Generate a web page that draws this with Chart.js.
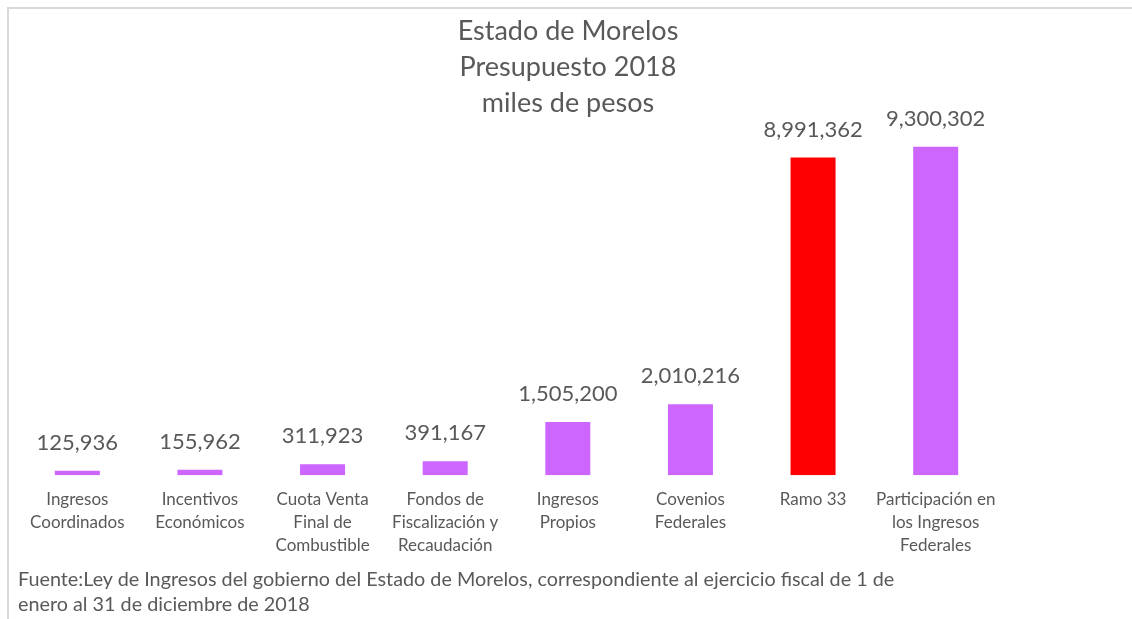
<!DOCTYPE html>
<html>
<head>
<meta charset="utf-8">
<script src="https://cdn.jsdelivr.net/npm/chart.js@4.4.1/dist/chart.umd.min.js"></script>
<style>
  html, body { margin: 0; padding: 0; background: #fff; }
  #wrap { position: relative; width: 1132px; height: 619px; overflow: hidden; }
  #frame { position: absolute; left: 7px; top: 7px; width: 1140px; height: 640px;
           border-top: 2px solid #d9d9d9; border-left: 2px solid #d9d9d9; }
  #chart { position: absolute; left: 0; top: 0; }
  #nota { position: absolute; left: 18px; top: 566px; font-family: Lato, sans-serif;
          font-size: 19.8px; line-height: 25px; color: #595959; white-space: nowrap; }
</style>
</head>
<body>
<div id="wrap">
  <div id="frame"></div>
  <canvas id="chart" width="1132" height="619"></canvas>
  <div id="nota">Fuente:Ley de Ingresos del gobierno del Estado de Morelos, correspondiente al ejercicio fiscal de 1 de<br>enero al 31 de diciembre de 2018</div>
</div>
<script>
// Datos del presupuesto (miles de pesos)
const titulo = ['Estado de Morelos', 'Presupuesto 2018', 'miles de pesos'];
const categorias = [
    ['Ingresos', 'Coordinados'],
    ['Incentivos', 'Económicos'],
    ['Cuota Venta', 'Final de', 'Combustible'],
    ['Fondos de', 'Fiscalización y', 'Recaudación'],
    ['Ingresos', 'Propios'],
    ['Covenios', 'Federales'],
    ['Ramo 33'],
    ['Participación en', 'los Ingresos', 'Federales']
];
const montos = [125936, 155962, 311923, 391167, 1505200, 2010216, 8991362, 9300302];
const colores = ['#CC66FF', '#CC66FF', '#CC66FF', '#CC66FF', '#CC66FF', '#CC66FF', '#FF0000', '#CC66FF'];

const textoGris = '#595959';

// titulo centrado en todo el lienzo (no solo sobre el area de barras)
const tituloCentrado = {
    id: 'tituloCentrado',
    afterDraw(chart) {
        const ctx = chart.ctx;
        ctx.save();
        ctx.font = '27px Lato';
        ctx.fillStyle = textoGris;
        ctx.textAlign = 'center';
        ctx.textBaseline = 'middle';
        titulo.forEach((linea, i) => {
            ctx.fillText(linea, 568, 31 + i * 36);
        });
        ctx.restore();
    }
};

// etiquetas con el valor encima de cada barra
const etiquetasValor = {
    id: 'etiquetasValor',
    afterDatasetsDraw(chart) {
        const ctx = chart.ctx;
        const meta = chart.getDatasetMeta(0);
        ctx.save();
        ctx.font = '22px Lato';
        ctx.fillStyle = textoGris;
        ctx.textAlign = 'center';
        ctx.textBaseline = 'middle';
        meta.data.forEach((bar, i) => {
            ctx.fillText(montos[i].toLocaleString('en-US'), bar.x, bar.y - 28);
        });
        ctx.restore();
    }
};

const canvas = document.getElementById('chart').getContext('2d');
new Chart(canvas, {
    type: 'bar',
    data: {
        labels: categorias,
        datasets: [{
            data: montos,
            backgroundColor: colores,
            borderWidth: 0,
            categoryPercentage: 1,
            barPercentage: 0.367
        }]
    },
    options: {
        responsive: false,
        animation: false,
        layout: {
            padding: { left: 16, right: 135, top: 122, bottom: 49 }
        },
        scales: {
            x: {
                grid: { display: false, drawTicks: false },
                border: { display: false },
                ticks: {
                    color: textoGris,
                    font: { family: 'Lato', size: 17, lineHeight: 1.35 },
                    padding: 13,
                    maxRotation: 0,
                    autoSkip: false
                }
            },
            y: {
                display: false,
                min: 0,
                max: 10000000
            }
        },
        plugins: {
            legend: { display: false },
            tooltip: { enabled: false },
            title: { display: false }
        }
    },
    plugins: [etiquetasValor, tituloCentrado]
});
</script>
</body>
</html>
